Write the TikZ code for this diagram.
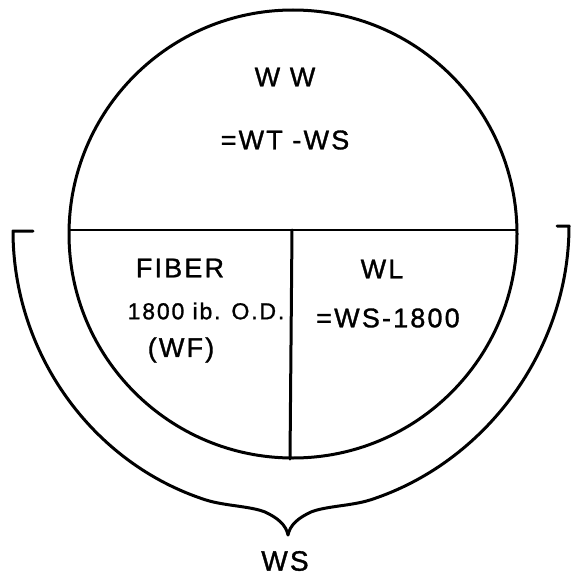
\documentclass[tikz,border=0pt]{standalone}
\usepackage{fontspec}
\setmainfont[LetterSpace=8,FakeBold=1.2]{Liberation Sans}
\begin{document}
\begin{tikzpicture}[x=1pt,y=-1pt,
  ink/.style={line width=3pt,line cap=round,line join=round},
  lbl/.style={font=\fontsize{27}{30}\selectfont,inner sep=0pt,anchor=center}]
\useasboundingbox (0,0) rectangle (572,580);
% circle
\coordinate (o) at (293,234);
\node[ink,draw,circle,minimum size=448pt,inner sep=0pt] (c) at (o) {};
\coordinate (hl) at (70,230);
\coordinate (hr) at (516,230);
\coordinate (vt) at (292,230);
\coordinate (vb) at (290,459);
\draw[ink,line width=2.4pt] (hl) -- (hr);
\draw[ink] (vt) -- (vb);
% brace
\coordinate (lt) at (33,231);
\coordinate (l0) at (13,231);
\coordinate (rt) at (557,226);
\coordinate (r0) at (569,226);
\coordinate (cusp) at (288,535);
\draw[ink] (lt) -- (l0)
  .. controls (13,352) and (91,463) .. (206,500)
  .. controls (225,506) and (250,506) .. (265,512)
  .. controls (278,518) and (286,525) .. (cusp)
  .. controls (290,525) and (298,518) .. (311,512)
  .. controls (326,506) and (351,506) .. (370,500)
  .. controls (485,463) and (569,350) .. (r0) -- (rt);
% labels
\node[lbl] (ww) at (285,77) {W W};
\node[lbl] (eq1) at (285,140) {=WT -WS};
\node[lbl] (fib) at (180,268) {FIBER};
\node[lbl,font=\fontsize{23}{28}\selectfont] (lb) at (206,311) {1800 ib. O.D.};
\node[lbl] (wf) at (181,350) {(WF)};
\node[lbl] (wl) at (382,269) {WL};
\node[lbl] (eq2) at (388,318) {=WS-1800};
\node[lbl,font=\fontsize{28}{30}\selectfont] (ws) at (285,561) {WS};
\end{tikzpicture}
\end{document}
